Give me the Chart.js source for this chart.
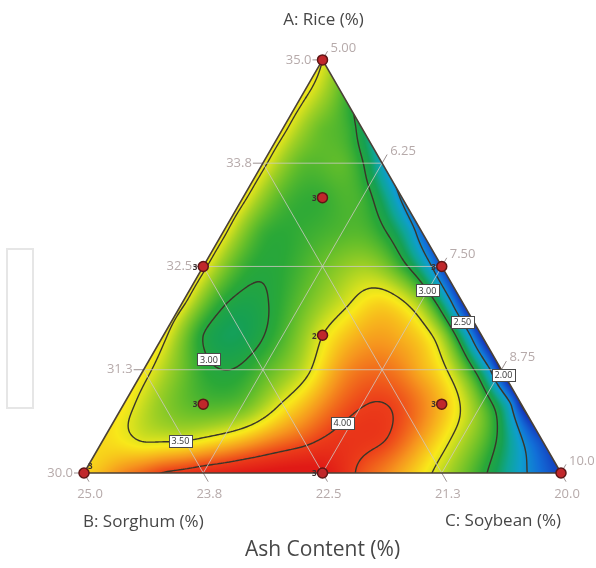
<!DOCTYPE html>
<html>
<head>
<meta charset="utf-8">
<title>Ash Content (%)</title>
<script src="https://cdn.jsdelivr.net/npm/chart.js@4.4.1/dist/chart.umd.min.js"></script>
<style>
  html, body { margin: 0; padding: 0; background: #ffffff; }
  #box { position: relative; width: 596px; height: 568px; }
</style>
</head>
<body>
<div id="box"><canvas id="chart" width="596" height="568"></canvas></div>
<script>
// ---- Mixture components (%) : Rice + Sorghum + Soybean = 60 ----
const blendTotal = 60;
const riceRange = [30, 35];
const sorghumRange = [20, 25];
const soybeanRange = [5, 10];

// Axis ticks for each component
const riceTicks = [35.0, 33.75, 32.5, 31.25, 30.0];
const riceTickLabels = ['35.0', '33.8', '32.5', '31.3', '30.0'];
const sorghumTicks = [25.0, 23.75, 22.5, 21.25, 20.0];
const sorghumTickLabels = ['25.0', '23.8', '22.5', '21.3', '20.0'];
const soybeanTicks = [5.0, 6.25, 7.5, 8.75, 10.0];
const soybeanTickLabels = ['5.00', '6.25', '7.50', '8.75', '10.0'];

// Design runs (blend compositions) and replicate counts
const runRice    = [35.0, 30.0, 30.0, 32.5, 32.5, 30.0, 31.667, 33.333, 30.833, 30.833];
const runSorghum = [20.0, 25.0, 20.0, 22.5, 20.0, 22.5, 21.667, 20.833, 23.333, 20.833];
const runSoybean = [5.0, 5.0, 10.0, 5.0, 7.5, 7.5, 6.667, 5.833, 5.833, 8.333];
const runCount   = ['', '3', '', '3', '3', '3', '2', '3', '3', '3'];

// Ash content (%) over a 12-step simplex lattice.
// Row r: Rice = 35 - 5r/12 ; entry k: Soybean = 5 + 5k/12 (Sorghum makes up the rest).
const ashLattice = [
  [3.50],
  [3.55, 3.15],
  [3.55, 3.20, 2.90],
  [3.55, 3.18, 3.18, 2.62],
  [3.55, 3.15, 3.08, 3.10, 2.45],
  [3.55, 3.10, 3.08, 3.15, 3.04, 2.32],
  [3.55, 3.10, 3.05, 3.22, 3.35, 3.08, 2.18],
  [3.55, 3.04, 2.98, 3.20, 3.44, 3.60, 3.28, 2.07],
  [3.55, 3.00, 2.90, 3.13, 3.50, 3.72, 3.70, 3.35, 2.02],
  [3.57, 3.22, 3.00, 3.15, 3.42, 3.78, 3.88, 3.70, 3.27, 1.96],
  [3.58, 3.30, 3.15, 3.20, 3.52, 3.80, 3.99, 3.95, 3.68, 3.20, 1.98],
  [3.60, 3.47, 3.46, 3.58, 3.76, 3.92, 4.05, 4.02, 3.75, 3.40, 2.92, 2.15],
  [3.62, 3.82, 4.01, 4.12, 4.20, 4.25, 4.22, 3.95, 3.72, 3.42, 3.06, 2.57, 2.10]
];
// Ash content (%) just inside the Sorghum = 20 % edge (Sorghum 20.1 %), lattice rows 1..12
const ashSorghumEdgeInset = [3.27, 3.05, 2.85, 2.68, 2.60, 2.50, 2.47, 2.45, 2.45, 2.48, 2.32, 2.22];

const contourLevels = [2.00, 2.50, 3.00, 3.50, 4.00];

// ---- colour ramp (ash %) ----
const colorStops = [
  [1.90, [18, 40, 150]],
  [2.10, [20, 62, 190]],
  [2.35, [18, 110, 215]],
  [2.58, [14, 158, 205]],
  [2.76, [14, 165, 150]],
  [2.90, [22, 160, 82]],
  [3.05, [42, 168, 55]],
  [3.20, [100, 190, 42]],
  [3.35, [160, 208, 36]],
  [3.47, [215, 225, 30]],
  [3.56, [248, 232, 26]],
  [3.78, [246, 150, 30]],
  [4.00, [236, 62, 26]],
  [4.20, [224, 26, 22]]
];

const SQ3 = Math.sqrt(3);
// Simplex (Rice, Soybean) -> plane coordinates; B: Sorghum vertex at origin, C: Soybean vertex at x = 1
function toXY(rice, soybean) {
  const a = (rice - riceRange[0]) / (riceRange[1] - riceRange[0]);
  const c = (soybean - soybeanRange[0]) / (soybeanRange[1] - soybeanRange[0]);
  return { x: c + a / 2, y: a * SQ3 / 2 };
}

// ---- surface samples ----
const sampleX = [], sampleY = [], sampleV = [];
const steps = ashLattice.length - 1;
ashLattice.forEach((row, r) => {
  const rice = riceRange[1] - (riceRange[1] - riceRange[0]) * r / steps;
  row.forEach((v, k) => {
    const soy = soybeanRange[0] + (soybeanRange[1] - soybeanRange[0]) * k / steps;
    const p = toXY(rice, soy);
    sampleX.push(p.x); sampleY.push(p.y); sampleV.push(v);
  });
});
ashSorghumEdgeInset.forEach((v, i) => {
  const r = i + 1;
  const rice = riceRange[1] - (riceRange[1] - riceRange[0]) * r / steps;
  const sorghum = sorghumRange[0] + (sorghumRange[1] - sorghumRange[0]) / (4 * steps);
  const p = toXY(rice, blendTotal - rice - sorghum);
  sampleX.push(p.x); sampleY.push(p.y); sampleV.push(v);
});

// Thin-plate spline through the samples
function solveLinear(M, n) {
  for (let col = 0; col < n; col++) {
    let piv = col, best = Math.abs(M[col][col]);
    for (let r = col + 1; r < n; r++) { const v = Math.abs(M[r][col]); if (v > best) { best = v; piv = r; } }
    if (piv !== col) { const t = M[piv]; M[piv] = M[col]; M[col] = t; }
    const d = M[col][col];
    for (let r = col + 1; r < n; r++) {
      const f = M[r][col] / d;
      if (f === 0) continue;
      const R = M[r], P = M[col];
      for (let k = col; k <= n; k++) R[k] -= f * P[k];
    }
  }
  const x = new Float64Array(n);
  for (let r = n - 1; r >= 0; r--) {
    let s = M[r][n];
    for (let k = r + 1; k < n; k++) s -= M[r][k] * x[k];
    x[r] = s / M[r][r];
  }
  return x;
}
function kern(r2) { return r2 > 0 ? r2 * Math.log(r2) : 0; }
const spline = (function () {
  const n = sampleX.length, m = n + 3;
  const M = [];
  for (let i = 0; i < m; i++) M.push(new Float64Array(m + 1));
  for (let i = 0; i < n; i++) {
    for (let j = 0; j < n; j++) {
      const dx = sampleX[i] - sampleX[j], dy = sampleY[i] - sampleY[j];
      M[i][j] = kern(dx * dx + dy * dy);
    }
    M[i][n] = 1; M[i][n + 1] = sampleX[i]; M[i][n + 2] = sampleY[i];
    M[n][i] = 1; M[n + 1][i] = sampleX[i]; M[n + 2][i] = sampleY[i];
    M[i][m] = sampleV[i];
  }
  const sol = solveLinear(M, m);
  return function (x, y) {
    let s = sol[n] + sol[n + 1] * x + sol[n + 2] * y;
    for (let i = 0; i < n; i++) {
      const dx = x - sampleX[i], dy = y - sampleY[i];
      s += sol[i] * kern(dx * dx + dy * dy);
    }
    return s;
  };
})();

function ashColor(v) {
  const s = colorStops;
  if (v <= s[0][0]) return s[0][1];
  for (let i = 1; i < s.length; i++) {
    if (v <= s[i][0]) {
      const t = (v - s[i - 1][0]) / (s[i][0] - s[i - 1][0]);
      const a = s[i - 1][1], b = s[i][1];
      return [a[0] + (b[0] - a[0]) * t, a[1] + (b[1] - a[1]) * t, a[2] + (b[2] - a[2]) * t];
    }
  }
  return s[s.length - 1][1];
}

// ---- frame geometry ----
const pxPerUnit = 477, leftPx = 84, basePx = 473, W_PX = 596, H_PX = 568;
const xMin = -leftPx / pxPerUnit, xMax = (W_PX - leftPx) / pxPerUnit;
const yMin = -(H_PX - basePx) / pxPerUnit, yMax = basePx / pxPerUnit;
const tickLen = 10 / pxPerUnit;

const vApex = toXY(35, 5), vSorghum = toXY(30, 5), vSoybean = toXY(30, 10);

function lineSet(p, q, color, width, order) {
  return { type: 'scatter', data: [p, q], showLine: true, borderColor: color, borderWidth: width,
           pointRadius: 0, fill: false, tension: 0, order: order };
}

const datasets = [];
datasets.push({
  type: 'scatter', label: 'Design points',
  data: runRice.map((r, i) => toXY(r, runSoybean[i])),
  pointRadius: 5, pointHoverRadius: 5, backgroundColor: '#c0272b', borderColor: '#5e1616',
  borderWidth: 1.5, order: 0
});
datasets.push({
  type: 'scatter', data: [vApex, vSorghum, vSoybean, vApex], showLine: true,
  borderColor: '#4a4036', borderWidth: 1.6, pointRadius: 0, fill: false, tension: 0, order: 1
});
const gridColor = 'rgba(205,200,196,0.8)';
riceTicks.slice(1, -1).forEach(r => datasets.push(lineSet(toXY(r, 5), toXY(r, blendTotal - 20 - r), gridColor, 1, 3)));
soybeanTicks.slice(1, -1).forEach(s => datasets.push(lineSet(toXY(30, s), toXY(blendTotal - 20 - s, s), gridColor, 1, 3)));
sorghumTicks.slice(1, -1).forEach(b => datasets.push(lineSet(toXY(30, blendTotal - 30 - b), toXY(blendTotal - 5 - b, 5), gridColor, 1, 3)));
const tickColor = '#9a9090';
riceTicks.forEach(r => { const p = toXY(r, 5); datasets.push(lineSet(p, { x: p.x - tickLen, y: p.y }, tickColor, 1, 2)); });
sorghumTicks.forEach(b => { const p = toXY(30, blendTotal - 30 - b); datasets.push(lineSet(p, { x: p.x + tickLen / 2, y: p.y - tickLen * SQ3 / 2 }, tickColor, 1, 2)); });
soybeanTicks.forEach(s => { const p = toXY(blendTotal - 20 - s, s); datasets.push(lineSet(p, { x: p.x + tickLen / 2, y: p.y + tickLen * SQ3 / 2 }, tickColor, 1, 2)); });

// Contour label anchors (Rice %, Soybean %)
const labelAnchors = [
  { level: 3.00, rice: 32.21, soybean: 7.49 },
  { level: 2.50, rice: 31.83, soybean: 8.05 },
  { level: 2.00, rice: 31.20, soybean: 8.80 },
  { level: 3.00, rice: 31.37, soybean: 5.63 },
  { level: 3.50, rice: 30.48, soybean: 5.76 },
  { level: 4.00, rice: 30.57, soybean: 7.44 }
];

let surface = null;
function trianglePath(ctx, chart) {
  const xs = chart.scales.x, ys = chart.scales.y;
  ctx.beginPath();
  [vApex, vSorghum, vSoybean].forEach((p, i) => {
    const X = xs.getPixelForValue(p.x), Y = ys.getPixelForValue(p.y);
    if (i === 0) ctx.moveTo(X, Y); else ctx.lineTo(X, Y);
  });
  ctx.closePath();
}

function buildSurface(chart) {
  const xs = chart.scales.x, ys = chart.scales.y;
  const x0 = Math.floor(xs.getPixelForValue(0)) - 5, x1 = Math.ceil(xs.getPixelForValue(1)) + 5;
  const y0 = Math.floor(ys.getPixelForValue(SQ3 / 2)) - 5, y1 = Math.ceil(ys.getPixelForValue(0)) + 5;
  const W = x1 - x0 + 1, H = y1 - y0 + 1;
  const F = new Float32Array(W * H).fill(NaN);
  const off = document.createElement('canvas');
  off.width = W; off.height = H;
  const octx = off.getContext('2d');
  const img = octx.createImageData(W, H);
  const margin = 0.014;
  for (let j = 0; j < H; j++) {
    const dy = ys.getValueForPixel(y0 + j + 0.5);
    const a = dy * 2 / SQ3;
    for (let i = 0; i < W; i++) {
      const dx = xs.getValueForPixel(x0 + i + 0.5);
      const c = dx - a / 2, b = 1 - a - c;
      if (a < -margin || b < -margin || c < -margin) continue;
      const v = spline(dx, dy);
      F[j * W + i] = v;
      const col = ashColor(v), o = (j * W + i) * 4;
      img.data[o] = col[0]; img.data[o + 1] = col[1]; img.data[o + 2] = col[2]; img.data[o + 3] = 255;
    }
  }
  octx.putImageData(img, 0, 0);

  const s = 2, levels = [];
  contourLevels.forEach(level => {
    const segs = [];
    for (let j = 0; j + s < H; j += s) {
      for (let i = 0; i + s < W; i += s) {
        const va = F[j * W + i], vb = F[j * W + i + s], vc = F[(j + s) * W + i + s], vd = F[(j + s) * W + i];
        if (isNaN(va) || isNaN(vb) || isNaN(vc) || isNaN(vd)) continue;
        const X = x0 + i + 0.5, Y = y0 + j + 0.5, pts = [];
        if ((va < level) !== (vb < level)) pts.push([X + s * (level - va) / (vb - va), Y]);
        if ((vb < level) !== (vc < level)) pts.push([X + s, Y + s * (level - vb) / (vc - vb)]);
        if ((vd < level) !== (vc < level)) pts.push([X + s * (level - vd) / (vc - vd), Y + s]);
        if ((va < level) !== (vd < level)) pts.push([X, Y + s * (level - va) / (vd - va)]);
        if (pts.length >= 2) segs.push([pts[0][0], pts[0][1], pts[1][0], pts[1][1]]);
        if (pts.length === 4) segs.push([pts[2][0], pts[2][1], pts[3][0], pts[3][1]]);
      }
    }
    levels.push({ level, segs });
  });
  return { canvas: off, x0, y0, levels };
}

const surfacePlugin = {
  id: 'ashSurface',
  beforeDatasetsDraw(chart) {
    if (!surface) surface = buildSurface(chart);
    const ctx = chart.ctx;
    ctx.save();
    trianglePath(ctx, chart);
    ctx.clip();
    ctx.drawImage(surface.canvas, surface.x0, surface.y0);
    ctx.strokeStyle = '#3a3629';
    ctx.lineWidth = 1.4;
    ctx.lineCap = 'round';
    ctx.lineJoin = 'round';
    ctx.beginPath();
    surface.levels.forEach(lv => lv.segs.forEach(g => { ctx.moveTo(g[0], g[1]); ctx.lineTo(g[2], g[3]); }));
    ctx.stroke();
    ctx.restore();
  },
  afterDatasetsDraw(chart) {
    const ctx = chart.ctx, xs = chart.scales.x, ys = chart.scales.y;
    const P = p => ({ x: xs.getPixelForValue(p.x), y: ys.getPixelForValue(p.y) });
    ctx.save();

    // contour value boxes
    ctx.font = '9px "Open Sans", "DejaVu Sans", sans-serif';
    ctx.textAlign = 'center';
    ctx.textBaseline = 'middle';
    labelAnchors.forEach(lb => {
      const t = P(toXY(lb.rice, lb.soybean));
      let best = null, bd = 30 * 30;
      const lv = surface.levels.find(l => Math.abs(l.level - lb.level) < 1e-9);
      if (lv) lv.segs.forEach(g => {
        const mx = (g[0] + g[2]) / 2, my = (g[1] + g[3]) / 2;
        const d = (mx - t.x) ** 2 + (my - t.y) ** 2;
        if (d < bd) { bd = d; best = { x: mx, y: my }; }
      });
      const at = best || t;
      const txt = lb.level.toFixed(2);
      const w = ctx.measureText(txt).width + 5, h = 12;
      ctx.fillStyle = '#ffffff';
      ctx.fillRect(Math.round(at.x - w / 2) + 0.5, Math.round(at.y - h / 2) + 0.5, Math.round(w), h);
      ctx.strokeStyle = '#4a4a4a';
      ctx.lineWidth = 1;
      ctx.strokeRect(Math.round(at.x - w / 2) + 0.5, Math.round(at.y - h / 2) + 0.5, Math.round(w), h);
      ctx.fillStyle = '#333333';
      ctx.fillText(txt, at.x, at.y + 0.5);
    });

    // replicate counts next to design points
    ctx.font = 'bold 8px "Open Sans", "DejaVu Sans", sans-serif';
    ctx.fillStyle = '#3a3030';
    runRice.forEach((r, i) => {
      if (!runCount[i]) return;
      const p = P(toXY(r, runSoybean[i]));
      if (i === 1) { ctx.textAlign = 'left'; ctx.fillText(runCount[i], p.x + 4, p.y - 6); }
      else { ctx.textAlign = 'right'; ctx.fillText(runCount[i], p.x - 6, p.y + 1); }
    });

    // component tick labels
    ctx.font = '13px "Open Sans", "Liberation Sans", sans-serif';
    ctx.fillStyle = '#b6aaaa';
    ctx.textBaseline = 'middle';
    ctx.textAlign = 'right';
    riceTicks.forEach((r, i) => { const p = P(toXY(r, 5)); ctx.fillText(riceTickLabels[i], p.x - 11, p.y); });
    ctx.textAlign = 'center';
    sorghumTicks.forEach((b, i) => { const p = P(toXY(30, blendTotal - 30 - b)); ctx.fillText(sorghumTickLabels[i], p.x + 6, p.y + 21); });
    ctx.textAlign = 'left';
    soybeanTicks.forEach((s, i) => { const p = P(toXY(blendTotal - 20 - s, s)); ctx.fillText(soybeanTickLabels[i], p.x + 8, p.y - 12); });

    // component titles
    const pa = P(vApex), pb = P(vSorghum), pc = P(vSoybean);
    ctx.fillStyle = '#474747';
    ctx.font = '17px "Open Sans", "Liberation Sans", sans-serif';
    ctx.textAlign = 'center';
    ctx.fillText('A: Rice (%)', pa.x + 1, pa.y - 40);
    ctx.textAlign = 'left';
    ctx.fillText('B: Sorghum (%)', pb.x - 1, pb.y + 49);
    ctx.textAlign = 'right';
    ctx.fillText('C: Soybean (%)', pc.x, pc.y + 48);
    ctx.font = '21px "Open Sans", "Liberation Sans", sans-serif';
    ctx.textAlign = 'center';
    ctx.fillText('Ash Content (%)', (pb.x + pc.x) / 2, pb.y + 77);

    // empty legend frame on the left
    ctx.strokeStyle = '#e6e6e6';
    ctx.lineWidth = 2;
    ctx.strokeRect(7, 249, 26, 159);
    ctx.restore();
  }
};

new Chart(document.getElementById('chart'), {
  type: 'scatter',
  data: { datasets },
  options: {
    responsive: false,
    devicePixelRatio: 1,
    animation: false,
    events: [],
    layout: { padding: 0, autoPadding: false },
    plugins: { legend: { display: false }, tooltip: { enabled: false } },
    scales: {
      x: { type: 'linear', min: xMin, max: xMax, display: false },
      y: { type: 'linear', min: yMin, max: yMax, display: false }
    }
  },
  plugins: [surfacePlugin]
});
</script>
</body>
</html>
